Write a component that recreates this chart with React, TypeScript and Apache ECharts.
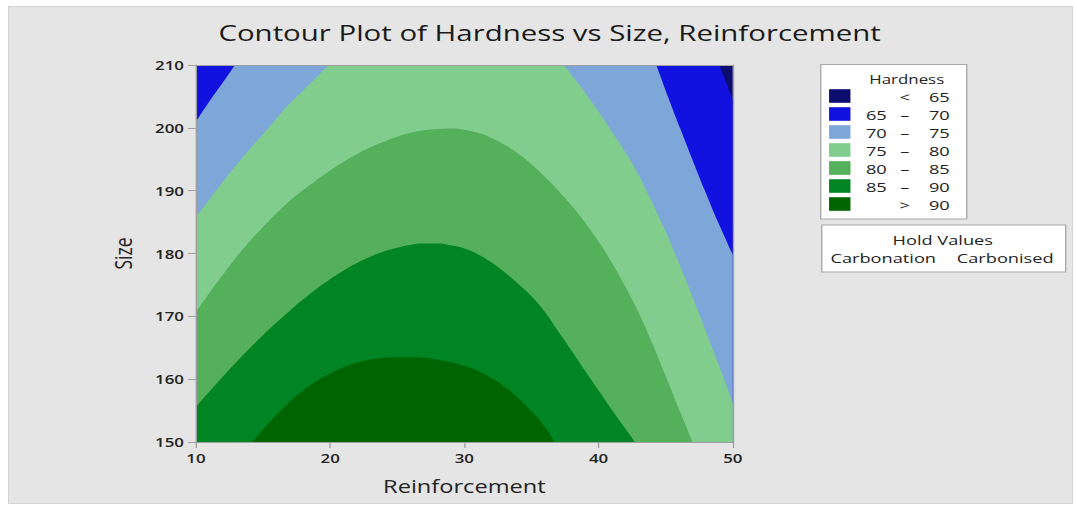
import React, { useEffect, useRef } from 'react';
import * as echarts from 'echarts';

// ---------- data ----------
const chartTitle = 'Contour Plot of Hardness vs Size, Reinforcement';
const xName = 'Reinforcement';
const yName = 'Size';
const xMin = 10;
const xMax = 50;
const xStep = 10;
const yMin = 150;
const yMax = 210;
const yStep = 10;

const legendTitle = 'Hardness';
const levelLow = ['', '65', '70', '75', '80', '85', ''];
const levelSign = ['<', '–', '–', '–', '–', '–', '>'];
const levelHigh = ['65', '70', '75', '80', '85', '90', '90'];
const levelColors = ['#0c0c6e', '#1212e0', '#7da7d8', '#80cd8e', '#54b05a', '#018423', '#006400'];

const holdTitle = 'Hold Values';
const holdFactor = 'Carbonation';
const holdValue = 'Carbonised';

// contour boundaries [Reinforcement, Size]; the region below each curve lies above that level
// (points a little above 210 continue a curve past the top edge and are clipped away)
const boundTop = [[10, 210], [50, 210]];
const bound65 = [[10, 212], [48.8, 211.2], [49.0, 210], [49.5, 207.2], [50, 204.4]];
const bound70 = [
  [10, 201.0], [11.0, 204.2], [12.0, 207.2], [12.9, 210], [13.2, 211],
  [44.0, 211.7], [44.3, 210], [45.2, 204.8], [46.1, 199.8], [47.0, 194.9], [47.9, 190.1], [48.9, 185.0], [50, 179.8],
];
const bound75 = [
  [10, 185.9], [11, 188.6], [12, 191.4], [13, 194.1], [14, 196.6], [15, 199.0], [16, 201.5], [17, 203.9], [18, 206.0], [19, 208.1], [19.9, 210], [20.3, 210.9],
  [37.0, 211.1], [37.4, 210], [38.5, 207.0], [39.7, 203.5], [40.9, 199.7], [42.1, 195.8], [43.0, 192.4], [43.9, 188.5], [44.8, 184.4], [45.6, 180.5],
  [46.5, 175.8], [47.3, 171.5], [48.0, 167.6], [49.0, 162.0], [50, 156.2],
];
const bound80 = [
  [10, 170.7], [11, 173.7], [12, 176.6], [13, 179.4], [14, 181.9], [15, 184.2], [16, 186.4], [17, 188.4], [18, 190.1], [19, 191.7],
  [20, 193.2], [21, 194.6], [22, 195.8], [23, 196.9], [24, 197.8], [25, 198.6], [26, 199.2], [27, 199.6], [28, 199.8], [29, 199.9],
  [30, 199.7], [31, 199.2], [32, 198.4], [33, 197.3], [34, 195.9], [35, 194.2], [36, 192.2], [37, 190.0], [38, 187.6], [39, 184.9],
  [40, 181.9], [41, 178.5], [42, 174.7], [43, 170.5], [44, 165.7], [45, 160.5], [46, 155.2], [47, 150],
];
const bound85 = [
  [10, 155.6], [11, 158.0], [12, 160.4], [13, 162.7], [14, 164.9], [15, 167.0], [16, 169.0], [17, 170.9], [18, 172.7], [19, 174.4],
  [20, 175.9], [21, 177.3], [22, 178.5], [23, 179.5], [24, 180.3], [25, 180.9], [26, 181.4], [27, 181.6], [28, 181.6], [29, 181.3],
  [30, 180.8], [31, 179.9], [32, 178.6], [33, 177.0], [34, 175.2], [35, 173.2], [36, 170.7], [37, 167.6], [38, 164.5], [39, 161.3],
  [40, 158.2], [41, 155.1], [42, 152.1], [42.7, 150],
];
const bound90 = [
  [14.2, 150], [15, 152.0], [16, 154.3], [17, 156.4], [18, 158.2], [19, 159.7], [20, 160.9], [21, 161.9], [22, 162.6], [23, 163.1],
  [24, 163.4], [25, 163.5], [26, 163.5], [27, 163.4], [28, 163.1], [29, 162.7], [30, 162.1], [31, 161.3], [32, 160.2], [33, 158.8],
  [34, 157.0], [35, 154.9], [36, 152.4], [36.7, 150],
];
const boundaries = [boundTop, bound65, bound70, bound75, bound80, bound85, bound90];

// ---------- layout ----------
const STRETCH = 1.35; // reference is horizontally stretched
const PAGE_W = 1077;
const PAGE_H = 507;
const LOCAL_W = Math.round(PAGE_W / STRETCH);
const FONT = "'Open Sans', 'Noto Sans', sans-serif";
const TXT = '#232323';
const AXIS = '#a0a0a0';
const px = (pageX: number) => pageX / STRETCH;

export default function App() {
  const ref = useRef<HTMLDivElement>(null);

  useEffect(() => {
    if (!ref.current) return;
    const chart = echarts.init(ref.current, undefined, { renderer: 'svg' });

    const series = boundaries.map((pts, i) => ({
      type: 'line',
      name: levelHigh[i],
      data: pts,
      smooth: 0.5,
      showSymbol: false,
      symbol: 'none',
      silent: true,
      clip: true,
      lineStyle: { width: 0, opacity: 0 },
      areaStyle: { color: levelColors[i], opacity: 1, origin: 'start' },
      z: 2,
    }));

    const legendEls: any[] = [
      {
        type: 'rect',
        shape: { x: px(821), y: 64.5, width: px(967) - px(821), height: 154.5 },
        style: { fill: '#ffffff', stroke: '#a8a8a8', lineWidth: 1 },
        z: 1,
      },
      {
        type: 'text',
        x: px(907),
        y: 79,
        style: { text: legendTitle, fill: TXT, fontSize: 12.5, fontFamily: FONT, align: 'center', verticalAlign: 'middle' },
        z: 2,
      },
    ];
    levelColors.forEach((c, i) => {
      const cy = 96 + i * 18;
      legendEls.push({
        type: 'rect',
        shape: { x: px(829.3), y: cy - 6.8, width: px(850.7) - px(829.3), height: 13.6 },
        style: { fill: c },
        z: 2,
      });
      legendEls.push({
        type: 'text',
        x: px(887),
        y: cy + 1,
        style: { text: levelLow[i], fill: TXT, fontSize: 13.5, fontFamily: FONT, align: 'right', verticalAlign: 'middle' },
        z: 2,
      });
      legendEls.push({
        type: 'text',
        x: px(905),
        y: cy + 1,
        style: { text: levelSign[i], fill: TXT, fontSize: 13.5, fontFamily: FONT, align: 'center', verticalAlign: 'middle' },
        z: 2,
      });
      legendEls.push({
        type: 'text',
        x: px(950),
        y: cy + 1,
        style: { text: levelHigh[i], fill: TXT, fontSize: 13.5, fontFamily: FONT, align: 'right', verticalAlign: 'middle' },
        z: 2,
      });
    });
    legendEls.push(
      {
        type: 'rect',
        shape: { x: px(822), y: 225, width: px(1066) - px(822), height: 47 },
        style: { fill: '#ffffff', stroke: '#a8a8a8', lineWidth: 1 },
        z: 1,
      },
      {
        type: 'text',
        x: px(943),
        y: 239.5,
        style: { text: holdTitle, fill: TXT, fontSize: 13.5, fontFamily: FONT, align: 'center', verticalAlign: 'middle' },
        z: 2,
      },
      {
        type: 'text',
        x: px(830.7),
        y: 257.5,
        style: { text: holdFactor, fill: TXT, fontSize: 13.5, fontFamily: FONT, align: 'left', verticalAlign: 'middle' },
        z: 2,
      },
      {
        type: 'text',
        x: px(957),
        y: 257.5,
        style: { text: holdValue, fill: TXT, fontSize: 13.5, fontFamily: FONT, align: 'left', verticalAlign: 'middle' },
        z: 2,
      }
    );

    const baseAxis = {
      type: 'value',
      z: 5,
      splitLine: { show: false },
    };

    chart.setOption({
      animation: false,
      backgroundColor: 'transparent',
      textStyle: { fontFamily: FONT },
      title: {
        text: chartTitle,
        left: px(543),
        top: 17,
        textAlign: 'center',
        textStyle: { fontSize: 21.8, fontWeight: 'normal', color: '#1a1a1a', fontFamily: FONT },
      },
      grid: {
        left: px(196),
        top: 65,
        width: px(733) - px(196),
        height: 377,
        containLabel: false,
      },
      xAxis: [
        {
          ...baseAxis,
          min: xMin,
          max: xMax,
          interval: xStep,
          position: 'bottom',
          axisLine: { show: true, onZero: false, lineStyle: { color: AXIS, width: 1 } },
          axisTick: { show: true, length: 6, lineStyle: { color: AXIS } },
          axisLabel: { margin: 9, fontSize: 12.5, fontWeight: 600, color: TXT, fontFamily: FONT },
          name: xName,
          nameLocation: 'middle',
          nameGap: 35,
          nameTextStyle: { fontSize: 17.5, color: TXT, fontFamily: FONT },
        },
        {
          ...baseAxis,
          min: xMin,
          max: xMax,
          interval: xStep,
          position: 'top',
          axisLine: { show: true, onZero: false, lineStyle: { color: AXIS, width: 1 } },
          axisTick: { show: false },
          axisLabel: { show: false },
        },
      ],
      yAxis: [
        {
          ...baseAxis,
          min: yMin,
          max: yMax,
          interval: yStep,
          position: 'left',
          axisLine: { show: true, onZero: false, lineStyle: { color: AXIS, width: 1 } },
          axisTick: { show: true, length: px(8), lineStyle: { color: AXIS } },
          axisLabel: { margin: px(12), fontSize: 12.5, fontWeight: 600, color: TXT, fontFamily: FONT },
          name: yName,
          nameLocation: 'middle',
          nameGap: 45,
          nameTextStyle: { fontSize: 17.5, color: TXT, fontFamily: FONT },
        },
        {
          ...baseAxis,
          min: yMin,
          max: yMax,
          interval: yStep,
          position: 'right',
          axisLine: { show: true, onZero: false, lineStyle: { color: AXIS, width: 1 } },
          axisTick: { show: false },
          axisLabel: { show: false },
        },
      ],
      graphic: { elements: legendEls },
      series,
    });

    return () => chart.dispose();
  }, []);

  return (
    <div style={{ position: 'fixed', left: 0, top: 0, width: PAGE_W, height: PAGE_H, background: '#ffffff', overflow: 'hidden' }}>
      <div
        style={{
          position: 'absolute',
          left: 8,
          top: 6,
          width: 1065,
          height: 498,
          background: '#e5e5e5',
          border: '1px solid #d4d4d4',
          boxSizing: 'border-box',
        }}
      />
      <div
        style={{
          position: 'absolute',
          left: 0,
          top: 0,
          width: LOCAL_W,
          height: PAGE_H,
          transform: `scaleX(${PAGE_W / LOCAL_W})`,
          transformOrigin: '0 0',
        }}
      >
        <div ref={ref} style={{ width: LOCAL_W, height: PAGE_H }} />
      </div>
    </div>
  );
}
